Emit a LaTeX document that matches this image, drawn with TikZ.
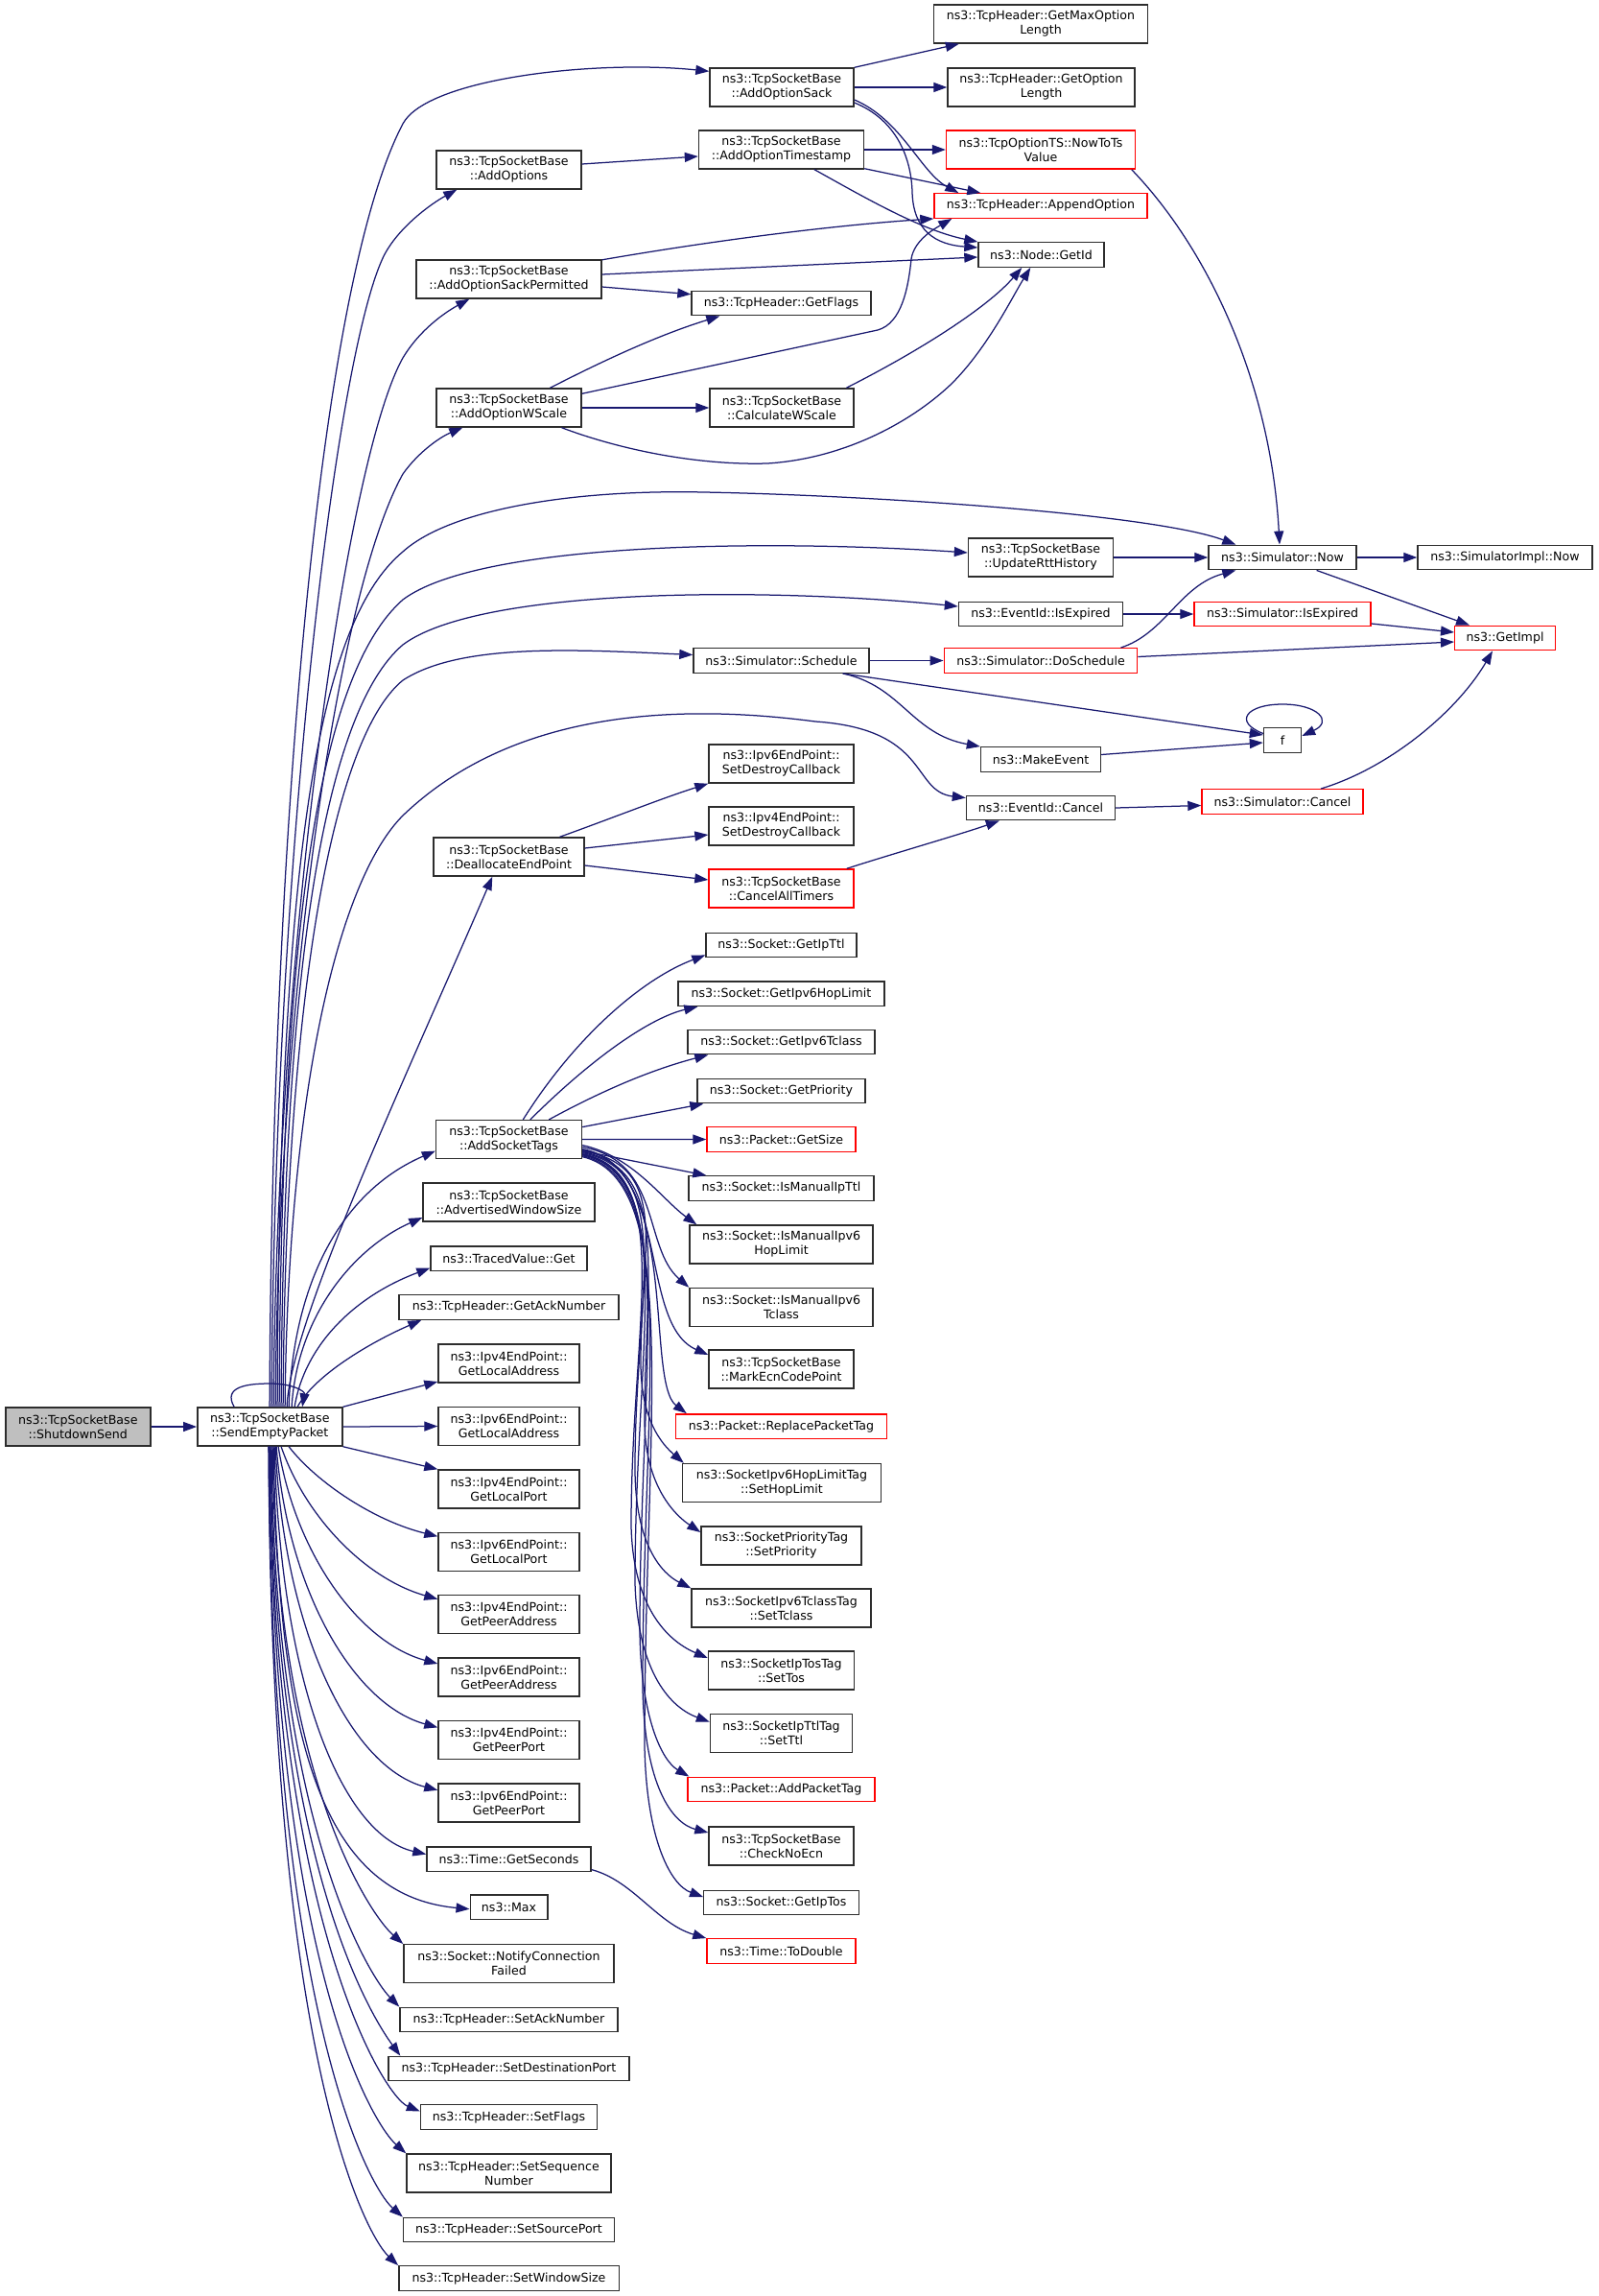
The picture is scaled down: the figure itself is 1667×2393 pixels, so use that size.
\documentclass[tikz,border=0pt]{standalone}
\usepackage{fontspec}
\setmainfont{DejaVu Sans}
\usetikzlibrary{arrows.meta,calc}
\definecolor{edgeblue}{RGB}{25,25,112}
\definecolor{nodeborder}{RGB}{45,45,45}
\definecolor{rootfill}{RGB}{191,191,191}
\definecolor{nodered}{RGB}{255,0,0}
\newcommand\dgfont{\fontsize{12.6pt}{15pt}\selectfont}
\tikzset{
  nb/.style={draw=nodeborder, fill=white, line width=1.4pt, inner sep=0pt, align=center, font=\dgfont, text=black},
  rb/.style={nb, draw=nodered},
  s1/.style={minimum height=25.5pt},
  s2/.style={minimum height=40pt},
  cg/.style={draw=edgeblue, line width=1.25pt, -{Triangle[length=14pt,width=10pt]}},
}
\begin{document}
\begin{tikzpicture}[x=1pt,y=-1pt]
\fill[white] (0,0) rectangle (1667,2393);
\useasboundingbox (0,0) rectangle (1667,2393);

% column 0/1
\node[nb,s2,fill=rootfill,minimum width=151pt] (sd) at (81.3,1487) {ns3::TcpSocketBase\\::ShutdownSend};
\node[nb,s2,minimum width=151pt] (sep) at (281.3,1487) {ns3::TcpSocketBase\\::SendEmptyPacket};

% column 2
\node[nb,s2,minimum width=151pt] (aopt) at (530.5,177) {ns3::TcpSocketBase\\::AddOptions};
\node[nb,s2,minimum width=193pt] (aosp) at (530.5,291) {ns3::TcpSocketBase\\::AddOptionSackPermitted};
\node[nb,s2,minimum width=151pt] (aows) at (530.5,425) {ns3::TcpSocketBase\\::AddOptionWScale};
\node[nb,s2,minimum width=157pt] (dealloc) at (530.5,893) {ns3::TcpSocketBase\\::DeallocateEndPoint};
\node[nb,s2,minimum width=152pt] (ast) at (530.5,1187.6) {ns3::TcpSocketBase\\::AddSocketTags};
\node[nb,s2,minimum width=179pt] (adv) at (530.5,1253) {ns3::TcpSocketBase\\::AdvertisedWindowSize};
\node[nb,s1,minimum width=163pt] (tvg) at (530.5,1311.6) {ns3::TracedValue::Get};
\node[nb,s1,minimum width=229pt] (gack) at (530.5,1362.5) {ns3::TcpHeader::GetAckNumber};
\node[nb,s2,minimum width=147pt] (v4la) at (530.5,1421) {ns3::Ipv4EndPoint::\\GetLocalAddress};
\node[nb,s2,minimum width=147pt] (v6la) at (530.5,1486.5) {ns3::Ipv6EndPoint::\\GetLocalAddress};
\node[nb,s2,minimum width=147pt] (v4lp) at (530.5,1552) {ns3::Ipv4EndPoint::\\GetLocalPort};
\node[nb,s2,minimum width=147pt] (v6lp) at (530.5,1617.3) {ns3::Ipv6EndPoint::\\GetLocalPort};
\node[nb,s2,minimum width=147pt] (v4pa) at (530.5,1682.7) {ns3::Ipv4EndPoint::\\GetPeerAddress};
\node[nb,s2,minimum width=147pt] (v6pa) at (530.5,1748) {ns3::Ipv6EndPoint::\\GetPeerAddress};
\node[nb,s2,minimum width=147pt] (v4pp) at (530.5,1813.4) {ns3::Ipv4EndPoint::\\GetPeerPort};
\node[nb,s2,minimum width=147pt] (v6pp) at (530.5,1878.8) {ns3::Ipv6EndPoint::\\GetPeerPort};
\node[nb,s1,minimum width=171pt] (gsec) at (530.5,1937.6) {ns3::Time::GetSeconds};
\node[nb,s1,minimum width=80.6pt] (max) at (530.5,1987.7) {ns3::Max};
\node[nb,s2,minimum width=219pt] (ncf) at (530.5,2046.7) {ns3::Socket::NotifyConnection\\Failed};
\node[nb,s1,minimum width=227pt] (sack) at (530.5,2105) {ns3::TcpHeader::SetAckNumber};
\node[nb,s1,minimum width=251pt] (sdp) at (530.5,2156) {ns3::TcpHeader::SetDestinationPort};
\node[nb,s1,minimum width=184pt] (sfl) at (530.5,2206.5) {ns3::TcpHeader::SetFlags};
\node[nb,s2,minimum width=213pt] (sseq) at (530.5,2265) {ns3::TcpHeader::SetSequence\\Number};
\node[nb,s1,minimum width=220pt] (ssp) at (530.5,2324) {ns3::TcpHeader::SetSourcePort};
\node[nb,s1,minimum width=229.4pt] (swin) at (530.5,2374.5) {ns3::TcpHeader::SetWindowSize};

% column 3
\node[nb,s2,minimum width=150pt] (aos) at (815,91) {ns3::TcpSocketBase\\::AddOptionSack};
\node[nb,s2,minimum width=172pt] (aots) at (814.5,156) {ns3::TcpSocketBase\\::AddOptionTimestamp};
\node[nb,s1,minimum width=187pt] (gfl) at (814.5,316) {ns3::TcpHeader::GetFlags};
\node[nb,s2,minimum width=150pt] (cws) at (815,425) {ns3::TcpSocketBase\\::CalculateWScale};
\node[nb,s1,minimum width=183pt] (sched) at (814.5,688.5) {ns3::Simulator::Schedule};
\node[nb,s2,minimum width=151pt] (v6sd) at (814.5,796) {ns3::Ipv6EndPoint::\\SetDestroyCallback};
\node[nb,s2,minimum width=151pt] (v4sd) at (814.5,861) {ns3::Ipv4EndPoint::\\SetDestroyCallback};
\node[rb,s2,minimum width=151pt] (cat) at (814.5,926) {ns3::TcpSocketBase\\::CancelAllTimers};
\node[nb,s1,minimum width=157pt] (gttl) at (814.5,985) {ns3::Socket::GetIpTtl};
\node[nb,s1,minimum width=215pt] (ghl) at (814.5,1035.8) {ns3::Socket::GetIpv6HopLimit};
\node[nb,s1,minimum width=195pt] (gtc) at (814.5,1086) {ns3::Socket::GetIpv6Tclass};
\node[nb,s1,minimum width=175pt] (gpri) at (814.5,1137) {ns3::Socket::GetPriority};
\node[rb,s1,minimum width=155pt] (gsize) at (814.5,1187.5) {ns3::Packet::GetSize};
\node[nb,s1,minimum width=193pt] (mttl) at (814.5,1238.5) {ns3::Socket::IsManualIpTtl};
\node[nb,s2,minimum width=191pt] (mhl) at (814.5,1297) {ns3::Socket::IsManualIpv6\\HopLimit};
\node[nb,s2,minimum width=191pt] (mtc) at (814.5,1362.5) {ns3::Socket::IsManualIpv6\\Tclass};
\node[nb,s2,minimum width=151pt] (mecn) at (814.5,1427) {ns3::TcpSocketBase\\::MarkEcnCodePoint};
\node[rb,s1,minimum width=220pt] (rpt) at (814.5,1486.6) {ns3::Packet::ReplacePacketTag};
\node[nb,s2,minimum width=207pt] (shl) at (815,1545.5) {ns3::SocketIpv6HopLimitTag\\::SetHopLimit};
\node[nb,s2,minimum width=167pt] (spri) at (814.5,1611) {ns3::SocketPriorityTag\\::SetPriority};
\node[nb,s2,minimum width=187pt] (stc) at (814.5,1676) {ns3::SocketIpv6TclassTag\\::SetTclass};
\node[nb,s2,minimum width=152pt] (stos) at (814.5,1741) {ns3::SocketIpTosTag\\::SetTos};
\node[nb,s2,minimum width=148pt] (sttl) at (814.5,1806.7) {ns3::SocketIpTtlTag\\::SetTtl};
\node[rb,s1,minimum width=195pt] (apt) at (814.5,1865) {ns3::Packet::AddPacketTag};
\node[nb,s2,minimum width=151pt] (cne) at (814.5,1924) {ns3::TcpSocketBase\\::CheckNoEcn};
\node[nb,s1,minimum width=161.5pt] (gtos) at (814.5,1983) {ns3::Socket::GetIpTos};
\node[rb,s1,minimum width=155pt] (todbl) at (814.5,2033.5) {ns3::Time::ToDouble};

% column 4
\node[nb,s2,minimum width=223pt] (gmol) at (1085,25) {ns3::TcpHeader::GetMaxOption\\Length};
\node[nb,s2,minimum width=195pt] (gol) at (1085.5,91) {ns3::TcpHeader::GetOption\\Length};
\node[rb,s2,minimum width=197pt] (nts) at (1085,156) {ns3::TcpOptionTS::NowToTs\\Value};
\node[rb,s1,minimum width=222pt] (appo) at (1085,214.5) {ns3::TcpHeader::AppendOption};
\node[nb,s1,minimum width=131pt] (gid) at (1085.5,265.5) {ns3::Node::GetId};
\node[nb,s2,minimum width=151pt] (urtt) at (1085,581) {ns3::TcpSocketBase\\::UpdateRttHistory};
\node[nb,s1,minimum width=171pt] (eie) at (1085,640) {ns3::EventId::IsExpired};
\node[rb,s1,minimum width=201.5pt] (dosch) at (1085,688.5) {ns3::Simulator::DoSchedule};
\node[nb,s1,minimum width=125pt] (mkev) at (1085,791.5) {ns3::MakeEvent};
\node[nb,s1,minimum width=155pt] (eic) at (1085,842) {ns3::EventId::Cancel};

% column 5
\node[nb,s1,minimum width=154pt] (snow) at (1337,581) {ns3::Simulator::Now};
\node[rb,s1,minimum width=184pt] (sie) at (1337,640) {ns3::Simulator::IsExpired};
\node[nb,s1,minimum width=39pt] (f) at (1337,771.5) {f};
\node[rb,s1,minimum width=168pt] (scan) at (1337,835.5) {ns3::Simulator::Cancel};

% column 6
\node[nb,s1,minimum width=182pt] (sinow) at (1569,581) {ns3::SimulatorImpl::Now};
\node[rb,s1,minimum width=104.6pt] (gimpl) at (1569,665) {ns3::GetImpl};

% ---------- edges ----------
\draw[cg] (sd) -- (sep);
\draw[cg] ($(sep.north west)+(39,0)$) .. controls (232,1445) and (258,1442) .. (282,1442) .. controls (305,1442) and (318,1450) .. ($(sep.north west)+(110,0)$);

% SendEmptyPacket upward
\draw[cg] ($(sep.north west)+(76,0)$) .. controls (283,900) and (330,300) .. (420,129) .. controls (445,82) and (620,62) .. ($(aos.north west)+(0,4)$);
\draw[cg] ($(sep.north west)+(78,0)$) .. controls (286,900) and (350,370) .. (400,267) .. controls (415,237) and (450,212) .. ($(aopt.south west)+(22,0)$);
\draw[cg] ($(sep.north west)+(80,0)$) .. controls (288,1000) and (360,480) .. (420,373) .. controls (438,343) and (465,325) .. ($(aosp.south west)+(56,0)$);
\draw[cg] ($(sep.north west)+(82,0)$) .. controls (290,1050) and (350,620) .. (420,494) .. controls (437,470) and (460,455) .. ($(aows.south west)+(28,0)$);
\draw[cg] ($(sep.north west)+(84,0)$) .. controls (291,900) and (330,650) .. (420,575) .. controls (470,530) and (600,510) .. (734,513) .. controls (900,516) and (1200,535) .. ($(snow.north west)+(29,0)$);
\draw[cg] ($(sep.north west)+(86,0)$) .. controls (293,950) and (335,700) .. (420,625) .. controls (500,565) and (800,562) .. ($(urtt.west)+(0,-5)$);
\draw[cg] ($(sep.north west)+(88,0)$) .. controls (295,1000) and (340,740) .. (420,672) .. controls (500,612) and (800,612) .. ($(eie.west)+(0,-8)$);
\draw[cg] ($(sep.north west)+(90,0)$) .. controls (297,1050) and (345,770) .. (420,709) .. controls (480,670) and (600,677) .. ($(sched.west)+(0,-6)$);
\draw[cg] ($(sep.north west)+(92,0)$) .. controls (300,1150) and (350,920) .. (420,850) .. controls (540,735) and (720,735) .. (850,752) .. controls (970,760) and (950,825) .. ($(eic.north west)+(0,3)$);
\draw[cg] ($(sep.north west)+(94,0)$) .. controls (302,1380) and (420,1130) .. ($(dealloc.south west)+(62,0)$);
\draw[cg] ($(sep.north west)+(96,0)$) .. controls (306,1330) and (360,1240) .. ($(ast.west)+(0,12)$);
\draw[cg] ($(sep.north west)+(99,0)$) .. controls (310,1370) and (370,1300) .. ($(adv.west)+(0,16)$);
\draw[cg] ($(sep.north west)+(102,0)$) .. controls (318,1400) and (372,1350) .. ($(tvg.west)+(0,10)$);
\draw[cg] ($(sep.north west)+(105,0)$) .. controls (330,1430) and (395,1395) .. ($(gack.south west)+(24,0)$);
\draw[cg] (sep.north east) -- ($(v4la.west)+(0,19)$);
\draw[cg] (sep.east) -- (v6la.west);
\draw[cg] (sep.south east) -- (v4lp.north west);

% SendEmptyPacket downward
\draw[cg] ($(sep.south west)+(96,0)$) .. controls (330,1545) and (390,1585) .. ($(v6lp.west)+(0,-16)$);
\draw[cg] ($(sep.south west)+(88,0)$) .. controls (318,1580) and (380,1645) .. ($(v4pa.west)+(0,-16)$);
\draw[cg] ($(sep.south west)+(85,0)$) .. controls (308,1620) and (375,1712) .. ($(v6pa.west)+(0,-14)$);
\draw[cg] ($(sep.south west)+(83,0)$) .. controls (300,1660) and (370,1777) .. ($(v4pp.west)+(0,-13)$);
\draw[cg] ($(sep.south west)+(82,0)$) .. controls (296,1700) and (365,1842) .. ($(v6pp.west)+(0,-13)$);
\draw[cg] ($(sep.south west)+(81,0)$) .. controls (292,1750) and (355,1912) .. ($(gsec.west)+(0,-5)$);
\draw[cg] ($(sep.south west)+(80,0)$) .. controls (290,1800) and (330,1975) .. ($(max.west)+(0,2)$);
\draw[cg] ($(sep.south west)+(79,0)$) .. controls (287,1850) and (385,1995) .. (ncf.north west);
\draw[cg] ($(sep.south west)+(78,0)$) .. controls (285,1900) and (385,2060) .. (sack.north west);
\draw[cg] ($(sep.south west)+(77,0)$) .. controls (285,1950) and (392,2108) .. ($(sdp.north west)+(13,0)$);
\draw[cg] ($(sep.south west)+(76,0)$) .. controls (284,2000) and (400,2185) .. ($(sfl.west)+(0,-6)$);
\draw[cg] ($(sep.south west)+(76,0)$) .. controls (284,2050) and (390,2215) .. (sseq.north west);
\draw[cg] ($(sep.south west)+(75,0)$) .. controls (283,2100) and (385,2280) .. (ssp.north west);
\draw[cg] ($(sep.south west)+(75,0)$) .. controls (282,2150) and (382,2330) .. (swin.north west);

% AddSocketTags
\draw[cg] ($(ast.north west)+(91.5,0)$) .. controls (600,1080) and (670,1020) .. ($(gttl.south west)+(0,-3)$);
\draw[cg] ($(ast.north west)+(99,0)$) .. controls (620,1100) and (680,1060) .. ($(ghl.south west)+(21,0)$);
\draw[cg] ($(ast.north west)+(118.5,0)$) .. controls (640,1130) and (690,1112) .. ($(gtc.south west)+(22,0)$);
\draw[cg] ($(ast.east)+(0,-13)$) -- ($(gpri.south west)+(7,0)$);
\draw[cg] (ast.east) -- (gsize.west);
\draw[cg] ($(ast.east)+(0,12)$) -- ($(mttl.north west)+(19,0)$);
\draw[cg] ($(ast.east)+(0,6)$) .. controls (660,1205) and (690,1250) .. ($(mhl.north west)+(8,0)$);
\draw[cg] ($(ast.east)+(0,8)$) .. controls (690,1210) and (670,1300) .. (mtc.north west);
\draw[cg] ($(ast.east)+(0,10)$) .. controls (700,1215) and (665,1380) .. ($(mecn.west)+(0,-15)$);
\draw[cg] ($(ast.east)+(0,11)$) .. controls (710,1215) and (672,1440) .. ($(rpt.north west)+(12,0)$);
\draw[cg] ($(ast.east)+(0,12)$) .. controls (700,1215) and (668,1300) .. (668,1420) .. controls (668,1480) and (690,1505) .. ($(shl.north west)+(2,0)$);
\draw[cg] ($(ast.east)+(0,13)$) .. controls (700,1218) and (672,1330) .. (672,1480) .. controls (672,1550) and (705,1580) .. ($(spri.west)+(0,-14)$);
\draw[cg] ($(ast.east)+(0,14)$) .. controls (705,1220) and (662,1350) .. (662,1530) .. controls (662,1610) and (690,1640) .. (stc.north west);
\draw[cg] ($(ast.east)+(0,15)$) .. controls (705,1222) and (658,1380) .. (658,1590) .. controls (660,1680) and (700,1712) .. ($(stos.west)+(0,-13)$);
\draw[cg] ($(ast.east)+(0,15.5)$) .. controls (708,1225) and (662,1400) .. (662,1650) .. controls (665,1745) and (700,1780) .. ($(sttl.west)+(0,-12)$);
\draw[cg] ($(ast.east)+(0,16)$) .. controls (708,1225) and (667,1420) .. (667,1700) .. controls (668,1790) and (690,1835) .. ($(apt.north west)+(2,0)$);
\draw[cg] ($(ast.east)+(0,17)$) .. controls (710,1228) and (670,1450) .. (670,1760) .. controls (672,1860) and (700,1900) .. ($(cne.west)+(0,-14)$);
\draw[cg] ($(ast.east)+(0,18)$) .. controls (712,1230) and (672,1480) .. (672,1820) .. controls (674,1920) and (700,1965) .. ($(gtos.west)+(0,-6)$);

% GetSeconds
\draw[cg] ($(gsec.east)+(0,11)$) .. controls (660,1960) and (685,2005) .. (todbl.north west);

% DeallocateEndPoint
\draw[cg] ($(dealloc.north)+(53,0)$) .. controls (640,852) and (690,832) .. (v6sd.south west);
\draw[cg] ($(dealloc.east)+(0,-9)$) -- ($(v4sd.west)+(0,9)$);
\draw[cg] ($(dealloc.east)+(0,9)$) -- ($(cat.west)+(0,-9)$);
\draw[cg] ($(cat.north east)+(-8,0)$) .. controls (930,890) and (1000,870) .. ($(eic.south west)+(35,0)$);

% AddOptions
\draw[cg] ($(aopt.east)+(0,-6)$) -- ($(aots.west)+(0,7)$);

% AddOptionSackPermitted
\draw[cg] ($(aosp.north east)+(0,0.5)$) .. controls (760,248) and (880,234) .. (appo.south west);
\draw[cg] ($(aosp.east)+(0,-5)$) -- ($(gid.west)+(0,2.5)$);
\draw[cg] ($(aosp.east)+(0,8)$) -- ($(gfl.west)+(0,-9.3)$);

% AddOptionWScale
\draw[cg] ($(aows.north)+(43,0)$) .. controls (650,365) and (700,345) .. ($(gfl.south west)+(30,0)$);
\draw[cg] ($(aows.north east)+(0,6)$) -- (915,344) .. controls (940,337) and (947,300) .. (950,270) .. controls (953,250) and (975,238) .. ($(appo.south west)+(19,0)$);
\draw[cg] (aows.east) -- (cws.west);
\draw[cg] ($(aows.south)+(55,0)$) .. controls (650,470) and (730,485) .. (800,483) .. controls (880,478) and (950,440) .. (992,400) .. controls (1030,362) and (1055,310) .. ($(gid.south west)+(55,0)$);
\draw[cg] ($(cws.north east)+(-8.4,0)$) .. controls (960,365) and (1030,320) .. ($(gid.south west)+(46,0)$);

% AddOptionSack
\draw[cg] (aos.north east) -- ($(gmol.south west)+(27,0)$);
\draw[cg] (aos.east) -- (gol.west);
\draw[cg] ($(aos.east)+(0,13)$) .. controls (940,125) and (960,180) .. ($(appo.north west)+(26,0)$);
\draw[cg] ($(aos.east)+(0,16)$) .. controls (935,125) and (950,165) .. (951,200) .. controls (952,240) and (975,255) .. ($(gid.west)+(0,-7.5)$);

% AddOptionTimestamp
\draw[cg] (aots.east) -- (nts.west);
\draw[cg] ($(aots.south east)+(0,-1)$) -- ($(appo.north west)+(49,0)$);
\draw[cg] ($(aots.south)+(34.5,0)$) .. controls (900,205) and (960,240) .. (gid.north west);

% NowToTsValue
\draw[cg] ($(nts.south east)+(-4.5,0)$) .. controls (1260,260) and (1325,400) .. ($(snow.north)+(-3,0)$);

% column 4/5
\draw[cg] (urtt.east) -- (snow.west);
\draw[cg] (eie.east) -- (sie.west);
\draw[cg] (snow.east) -- (sinow.west);
\draw[cg] ($(snow.south)+(35.6,0)$) -- ($(gimpl.north west)+(16,0)$);
\draw[cg] ($(sie.east)+(0,10)$) -- ($(gimpl.west)+(0,-6)$);
\draw[cg] ($(dosch.east)+(0,-4)$) -- ($(gimpl.west)+(0,4)$);
\draw[cg] ($(dosch.north east)+(-18,0)$) .. controls (1215,660) and (1230,610) .. ($(snow.south west)+(29,0)$);
\draw[cg] (sched.east) -- (dosch.west);
\draw[cg] ($(sched.south east)+(-28,0)$) -- ($(f.west)+(0,-5.5)$);
\draw[cg] ($(sched.south east)+(-28,0)$) .. controls (940,715) and (950,765) .. (mkev.north west);
\draw[cg] ($(mkev.east)+(0,-5)$) -- ($(f.west)+(0,2.5)$);
\draw[cg] ($(f.west)+(0,-7)$) .. controls (1285,752) and (1300,734) .. (1337,734) .. controls (1374,734) and (1390,752) .. ($(f.east)+(0,-4.5)$);
\draw[cg] (eic.east) -- ($(scan.west)+(0,4)$);
\draw[cg] ($(scan.north)+(40,0)$) .. controls (1450,800) and (1520,740) .. ($(gimpl.south west)+(40,0)$);
\end{tikzpicture}
\end{document}
